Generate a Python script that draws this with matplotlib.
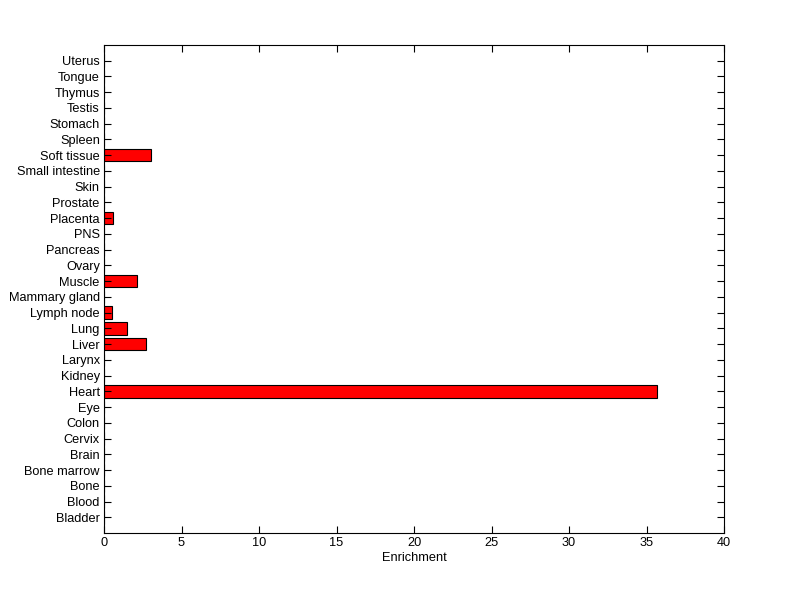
import matplotlib
matplotlib.use("Agg")
import matplotlib.pyplot as plt

tissues = ["Bladder", "Blood", "Bone", "Bone marrow", "Brain", "Cervix", "Colon", "Eye",
           "Heart", "Kidney", "Larynx", "Liver", "Lung", "Lymph node", "Mammary gland",
           "Muscle", "Ovary", "Pancreas", "PNS", "Placenta", "Prostate", "Skin",
           "Small intestine", "Soft tissue", "Spleen", "Stomach", "Testis", "Thymus",
           "Tongue", "Uterus"]
enrichment = [0, 0, 0, 0, 0, 0, 0, 0,
              35.65, 0, 0, 2.73, 1.48, 0.52, 0,
              2.13, 0, 0, 0, 0.58, 0, 0,
              0, 3.06, 0, 0, 0, 0,
              0, 0]
xticks = [0, 5, 10, 15, 20, 25, 30, 35, 40]

plt.rcParams['font.family'] = ['Liberation Sans', 'DejaVu Sans']
fig = plt.figure(figsize=(8.0, 5.99), dpi=100)
ax = fig.add_axes([0.13, 0.11, 0.775, 0.815])
pos = list(range(1, len(tissues) + 1))
ax.barh(pos, enrichment, height=0.8, color='#ff0000', edgecolor='black', linewidth=0.8)
ax.set_ylim(0, len(tissues) + 1)
ax.set_xlim(0, 40)
ax.set_yticks(pos)
ax.set_yticklabels(tissues, fontsize=9.2)
ax.set_xticks(xticks)
ax.set_xticklabels([str(x) for x in xticks], fontsize=9.2)
ax.set_xlabel("Enrichment", fontsize=9.2, labelpad=2)
ax.tick_params(direction='in', length=5, width=0.8, top=True, right=True, pad=3)
for s in ax.spines.values():
    s.set_linewidth(0.8)
fig.savefig("out.png", dpi=100, facecolor='white')
